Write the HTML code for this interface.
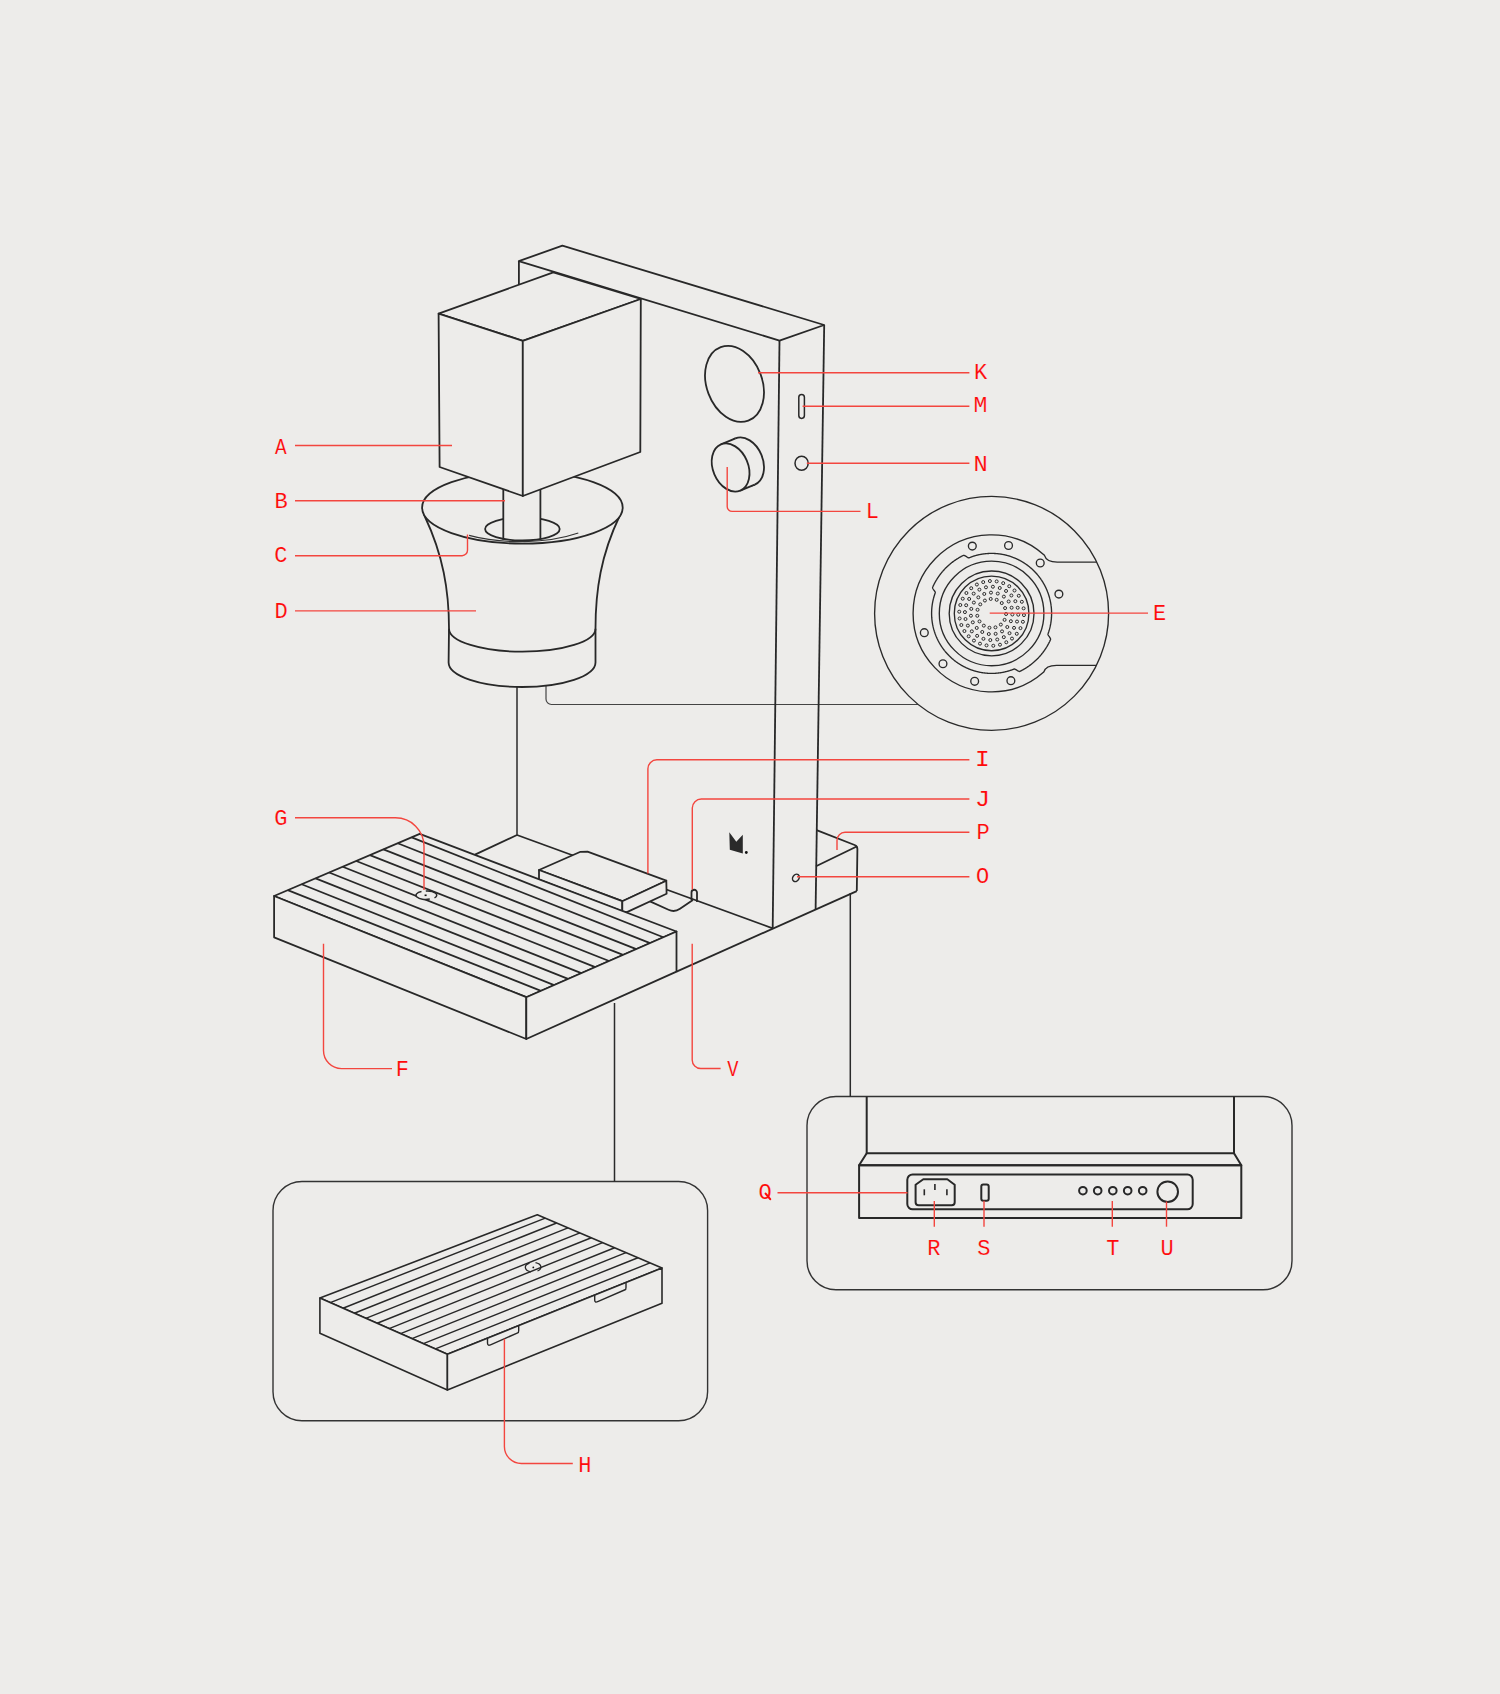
<!DOCTYPE html>
<html><head><meta charset="utf-8"><title>Espresso machine diagram</title>
<style>html,body{margin:0;padding:0;background:#edecea;}body{width:1500px;height:1694px;overflow:hidden;}svg{display:block;}</style>
</head><body>
<svg width="1500" height="1694" viewBox="0 0 1500 1694">
<rect width="1500" height="1694" fill="#edecea"/>
<g fill="none" stroke="#333" stroke-width="1.4">
<rect x="273" y="1181.5" width="434.6" height="239.2" rx="29" ry="29"/>
<rect x="807" y="1096.5" width="485" height="193.3" rx="29" ry="29"/>
</g>
<g fill="none" stroke="#2a2a2a" stroke-width="1.5">
<line x1="614.5" y1="1003" x2="614.5" y2="1181.5"/>
<line x1="850.3" y1="893" x2="850.3" y2="1096.5"/>
<line x1="517" y1="686" x2="517" y2="835"/>
</g>
<path d="M918,704.5 L551.5,704.5 A5.5,5.5 0 0 1 546,699 L546,686" fill="none" stroke="#444" stroke-width="1.2"/>
<g fill="#edecea" stroke="#282828" stroke-width="1.8" stroke-linejoin="round">
<polygon points="518.8,261.1 562.4,245.7 824.2,325 779.5,340.6"/>
<line x1="518.9" y1="261.1" x2="518.9" y2="290"/>
<line x1="779.5" y1="340.6" x2="772.7" y2="928.3"/>
<line x1="824.2" y1="325" x2="815.6" y2="909.5"/>
</g>
<g fill="#edecea" stroke="#282828" stroke-width="1.8">
<ellipse cx="0" cy="0" rx="27.8" ry="39.2" transform="translate(734.5,383.9) rotate(-20.6)"/>
</g>
<g fill="#edecea" stroke="#282828" stroke-width="1.8">
<ellipse cx="0" cy="0" rx="17.6" ry="25" transform="translate(745.1,461.5) rotate(-22.8)"/>
<polygon points="740.2,490.58 754.7,484.58 735.5,438.42 721,444.42" stroke="none"/>
<line x1="740.2" y1="490.58" x2="754.7" y2="484.58"/>
<line x1="721" y1="444.42" x2="735.5" y2="438.42"/>
<ellipse cx="0" cy="0" rx="17.6" ry="25" transform="translate(730.6,467.5) rotate(-22.8)"/>
</g>
<g fill="none" stroke="#282828" stroke-width="1.5">
<rect x="798.8" y="394.4" width="5.6" height="24" rx="2.8" ry="2.8"/>
<ellipse cx="801.6" cy="463.3" rx="6.6" ry="7"/>
<ellipse cx="0" cy="0" rx="3.1" ry="3.9" transform="translate(795.9,877.9) rotate(35)"/>
</g>
<polygon points="729.3,832.3 736.3,841.7 742.8,834.8 742.8,853.5 729.8,849.7" fill="#2a2a2a"/>
<circle cx="746.3" cy="852.5" r="1.4" fill="#111"/>
<g fill="none" stroke="#282828" stroke-width="1.8" stroke-linejoin="round">
<path d="M816.6,830.2 L854.6,845 Q857.4,846.1 857.4,849 L856.8,891.1"/>
<line x1="816" y1="866.2" x2="857.2" y2="846.3"/>
<line x1="475" y1="854.6" x2="517" y2="835"/>
<line x1="517" y1="835" x2="772.7" y2="928.3"/>
<line x1="676.5" y1="971.6" x2="856.8" y2="891.1"/>
<path d="M691.5,900 L691.5,892.5 A2.75,2.75 0 0 1 697,892.5 L697,902" />
<path d="M650,901.4 L668.5,909.8 Q674.5,912.6 680,908.8 L692.9,900" />
</g>
<g fill="#edecea" stroke="#282828" stroke-width="1.8" stroke-linejoin="round">
<polygon points="539,870 580.5,851.8 587.5,851.6 666.3,880.7 622.3,901.2"/>
<polygon points="539,870 539,879.5 622.3,911.3 622.3,901.2"/>
<polygon points="622.3,901.2 666.3,880.7 666.6,893.7 626.9,912.1 622.3,911.3"/>
</g>
<g fill="#edecea" stroke="#282828" stroke-width="1.8" stroke-linejoin="round">
<polygon points="274.1,896 419.7,833.9 676.5,931.5 526.3,997.2"/>
<polygon points="274.1,896 526.3,997.2 526.3,1039 274.1,937.3"/>
<polygon points="526.3,997.2 676.5,931.5 676.5,971.6 526.3,1039"/>
<line x1="287.74" y1="890.18" x2="540.96" y2="990.79"/>
<line x1="301.62" y1="884.26" x2="554.09" y2="985.05"/>
<line x1="315.6" y1="878.3" x2="568.06" y2="978.94"/>
<line x1="329.14" y1="872.53" x2="581.27" y2="973.15"/>
<line x1="342.68" y1="866.75" x2="595.24" y2="967.04"/>
<line x1="356.22" y1="860.98" x2="609.06" y2="961"/>
<line x1="369.9" y1="855.14" x2="623.03" y2="954.89"/>
<line x1="383.45" y1="849.36" x2="636.25" y2="949.11"/>
<line x1="397.71" y1="843.28" x2="650.06" y2="943.06"/>
<line x1="411.69" y1="837.32" x2="663.28" y2="937.28"/>
</g>
<g fill="none" stroke="#282828" stroke-width="1.5">
<path d="M421.5,891.5 A9.5,4.1 0 1 0 429.8,899" fill="#edecea"/>
<path d="M425.8,891.1 A9.5,4.1 0 0 1 434.5,897.8"/>
</g>
<rect x="424.6" y="894.5" width="2" height="1.6" fill="#111"/>
<g fill="#edecea" stroke="#282828" stroke-width="1.8">
<path d="M424.6,516 C443,555 449,590 449,628.7 L448.6,662.4 A73.45,24.6 0 0 0 595.5,662.4 L595.5,628.7 C595.5,590 601,555 619.6,516 Z"/>
<path d="M449,628.7 A73.25,23 0 0 0 595.5,628.7" fill="none"/>
<ellipse cx="522.4" cy="507.6" rx="100.3" ry="36"/>
<ellipse cx="522.4" cy="528.95" rx="37.3" ry="11.45"/>
</g>
<path d="M469.1,535.4 A90,36 0 0 0 578.3,533" fill="none" stroke="#333" stroke-width="1.1"/>
<rect x="503.5" y="480" width="36.8" height="50" fill="#edecea"/>
<g stroke="#282828" stroke-width="1.8"><line x1="503.3" y1="485" x2="503.3" y2="539.6"/><line x1="540.4" y1="485" x2="540.4" y2="539.6"/></g>
<g fill="#edecea" stroke="#282828" stroke-width="1.8" stroke-linejoin="round">
<polygon points="438.6,313.7 553.3,272.3 640.8,299 522.8,340.8"/>
<polygon points="438.6,313.7 522.8,340.8 522.8,496 439.6,467"/>
<polygon points="522.8,340.8 640.8,299 640.3,452 522.8,496"/>
</g>
<g fill="none" stroke="#2a2a2a" stroke-width="1.35">
<circle cx="991.6" cy="613.4" r="117" fill="#edecea"/>
<path d="M1096.75,562.1 L1057.25,562.1 Q1046.45,562.1 1044.45,555.36 A78.5,78.5 0 1 0 1043.76,672.07 Q1045.76,665.4 1056.56,665.4 L1096.41,665.4"/>
<path d="M931.6,613.4 931.6,613.05 931.6,612.7 931.61,612.35 931.62,612 931.63,611.65 931.64,611.31 931.65,610.96 931.66,610.61 931.68,610.26 931.7,609.91 931.72,609.56 931.75,609.21 931.77,608.87 931.8,608.52 931.83,608.17 931.86,607.82 931.89,607.48 931.93,607.13 931.97,606.78 932.01,606.43 932.05,606.09 932.09,605.74 932.14,605.4 932.18,605.05 932.23,604.7 932.29,604.36 932.34,604.01 932.39,603.67 932.45,603.33 932.51,602.98 932.57,602.64 932.64,602.29 932.7,601.95 932.77,601.61 932.84,601.27 932.91,600.93 932.98,600.58 933.06,600.24 933.14,599.9 933.22,599.56 933.3,599.22 933.38,598.88 933.47,598.55 933.56,598.21 933.64,597.87 933.74,597.53 933.83,597.2 933.92,596.86 934.02,596.53 934.12,596.19 934.22,595.86 934.32,595.52 934.43,595.19 934.54,594.86 934.65,594.53 934.76,594.2 934.87,593.87 934.98,593.54 935.1,593.21 935.22,592.88 935.26,592.52 935.15,592.11 934.93,591.65 934.62,591.15 934.27,590.62 933.88,590.08 933.5,589.53 933.16,588.99 932.87,588.47 932.68,587.98 932.61,587.54 932.68,587.17 932.83,586.82 932.99,586.48 933.14,586.14 933.3,585.8 933.46,585.46 933.63,585.13 933.79,584.79 933.96,584.45 934.13,584.12 934.3,583.78 934.47,583.45 934.65,583.12 934.83,582.79 935.01,582.46 935.19,582.13 935.37,581.8 935.55,581.48 935.74,581.15 935.93,580.83 936.12,580.5 936.31,580.18 936.51,579.86 936.7,579.54 936.9,579.22 937.1,578.9 937.3,578.59 937.51,578.27 937.71,577.96 937.92,577.64 938.13,577.33 938.34,577.02 938.55,576.71 938.76,576.4 938.98,576.1 939.2,575.79 939.42,575.49 939.64,575.18 939.86,574.88 940.09,574.58 940.31,574.28 940.54,573.99 940.77,573.69 941.01,573.39 941.24,573.1 941.47,572.81 941.71,572.52 941.95,572.23 942.19,571.94 942.43,571.65 942.68,571.37 942.92,571.08 943.17,570.8 943.42,570.52 943.67,570.24 943.92,569.96 944.17,569.69 944.43,569.41 944.68,569.14 944.94,568.87 945.2,568.59 945.46,568.33 945.73,568.06 945.99,567.79 946.26,567.53 946.53,567.26 946.79,567 947.07,566.74 947.34,566.48 947.61,566.23 947.89,565.97 948.16,565.72 948.44,565.47 948.72,565.22 949,564.97 949.28,564.72 949.57,564.48 949.85,564.23 950.14,563.99 950.43,563.75 950.72,563.51 951.01,563.27 951.3,563.04 951.59,562.81 951.89,562.57 952.19,562.34 952.48,562.11 952.78,561.89 953.08,561.66 953.38,561.44 953.69,561.22 953.99,561 954.3,560.78 954.6,560.56 954.91,560.35 955.22,560.14 955.53,559.93 955.84,559.72 956.16,559.51 956.47,559.31 956.79,559.1 957.1,558.9 957.42,558.7 957.74,558.5 958.06,558.31 958.38,558.11 958.7,557.92 959.03,557.73 959.35,557.54 959.68,557.35 960,557.17 960.33,556.99 960.66,556.81 960.99,556.63 961.32,556.45 961.65,556.27 961.98,556.1 962.32,555.93 962.65,555.76 962.99,555.59 963.33,555.43 963.7,555.34 964.14,555.4 964.64,555.58 965.17,555.85 965.72,556.17 966.28,556.53 966.84,556.9 967.37,557.24 967.88,557.52 968.35,557.73 968.77,557.82 969.12,557.77 969.45,557.64 969.77,557.51 970.1,557.39 970.42,557.26 970.75,557.14 971.08,557.02 971.41,556.9 971.74,556.78 972.07,556.67 972.4,556.56 972.73,556.45 973.06,556.34 973.39,556.23 973.72,556.12 974.06,556.02 974.39,555.92 974.73,555.82 975.06,555.72 975.4,555.63 975.73,555.54 976.07,555.44 976.41,555.36 976.75,555.27 977.08,555.18 977.42,555.1 977.76,555.02 978.1,554.94 978.44,554.86 978.78,554.78 979.13,554.71 979.47,554.64 979.81,554.57 980.15,554.5 980.49,554.44 980.84,554.37 981.18,554.31 981.53,554.25 981.87,554.19 982.21,554.14 982.56,554.09 982.9,554.03 983.25,553.98 983.6,553.94 983.94,553.89 984.29,553.85 984.63,553.81 984.98,553.77 985.33,553.73 985.68,553.69 986.02,553.66 986.37,553.63 986.72,553.6 987.07,553.57 987.41,553.55 987.76,553.52 988.11,553.5 988.46,553.48 988.81,553.46 989.16,553.45 989.51,553.44 989.85,553.43 990.2,553.42 990.55,553.41 990.9,553.4 991.25,553.4 991.6,553.4 991.95,553.4 992.3,553.4 992.65,553.41 993,553.42 993.35,553.43 993.69,553.44 994.04,553.45 994.39,553.46 994.74,553.48 995.09,553.5 995.44,553.52 995.79,553.55 996.13,553.57 996.48,553.6 996.83,553.63 997.18,553.66 997.52,553.69 997.87,553.73 998.22,553.77 998.57,553.81 998.91,553.85 999.26,553.89 999.6,553.94 999.95,553.98 1000.3,554.03 1000.64,554.09 1000.99,554.14 1001.33,554.19 1001.67,554.25 1002.02,554.31 1002.36,554.37 1002.71,554.44 1003.05,554.5 1003.39,554.57 1003.73,554.64 1004.07,554.71 1004.42,554.78 1004.76,554.86 1005.1,554.94 1005.44,555.02 1005.78,555.1 1006.12,555.18 1006.45,555.27 1006.79,555.36 1007.13,555.44 1007.47,555.54 1007.8,555.63 1008.14,555.72 1008.47,555.82 1008.81,555.92 1009.14,556.02 1009.48,556.12 1009.81,556.23 1010.14,556.34 1010.47,556.45 1010.8,556.56 1011.13,556.67 1011.46,556.78 1011.79,556.9 1012.12,557.02 1012.45,557.14 1012.78,557.26 1013.1,557.39 1013.43,557.51 1013.75,557.64 1014.08,557.77 1014.4,557.9 1014.72,558.03 1015.04,558.17 1015.36,558.31 1015.68,558.45 1016,558.59 1016.32,558.73 1016.64,558.87 1016.96,559.02 1017.27,559.17 1017.59,559.32 1017.9,559.47 1018.22,559.63 1018.53,559.78 1018.84,559.94 1019.15,560.1 1019.46,560.26 1019.77,560.42 1020.08,560.59 1020.38,560.75 1020.69,560.92 1020.99,561.09 1021.3,561.26 1021.6,561.44 1021.9,561.61 1022.2,561.79 1022.5,561.97 1022.8,562.15 1023.1,562.33 1023.4,562.52 1023.69,562.7 1023.99,562.89 1024.28,563.08 1024.57,563.27 1024.86,563.46 1025.15,563.66 1025.44,563.85 1025.73,564.05 1026.01,564.25 1026.3,564.45 1026.58,564.65 1026.87,564.86 1027.15,565.06 1027.43,565.27 1027.71,565.48 1027.99,565.69 1028.26,565.91 1028.54,566.12 1028.81,566.34 1029.09,566.55 1029.36,566.77 1029.63,566.99 1029.9,567.21 1030.17,567.44 1030.43,567.66 1030.7,567.89 1030.96,568.12 1031.23,568.35 1031.49,568.58 1031.75,568.81 1032.01,569.05 1032.26,569.28 1032.52,569.52 1032.77,569.76 1033.03,570 1033.28,570.24 1033.53,570.48 1033.78,570.73 1034.03,570.97 1034.27,571.22 1034.52,571.47 1034.76,571.72 1035,571.97 1035.24,572.23 1035.48,572.48 1035.72,572.74 1035.95,572.99 1036.19,573.25 1036.42,573.51 1036.65,573.77 1036.88,574.04 1037.11,574.3 1037.34,574.57 1037.56,574.83 1037.79,575.1 1038.01,575.37 1038.23,575.64 1038.45,575.91 1038.66,576.19 1038.88,576.46 1039.09,576.74 1039.31,577.01 1039.52,577.29 1039.73,577.57 1039.94,577.85 1040.14,578.13 1040.35,578.42 1040.55,578.7 1040.75,578.99 1040.95,579.27 1041.15,579.56 1041.34,579.85 1041.54,580.14 1041.73,580.43 1041.92,580.72 1042.11,581.01 1042.3,581.31 1042.48,581.6 1042.67,581.9 1042.85,582.2 1043.03,582.5 1043.21,582.8 1043.39,583.1 1043.56,583.4 1043.74,583.7 1043.91,584.01 1044.08,584.31 1044.25,584.62 1044.41,584.92 1044.58,585.23 1044.74,585.54 1044.9,585.85 1045.06,586.16 1045.22,586.47 1045.37,586.78 1045.53,587.1 1045.68,587.41 1045.83,587.73 1045.98,588.04 1046.13,588.36 1046.27,588.68 1046.41,589 1046.55,589.32 1046.69,589.64 1046.83,589.96 1046.97,590.28 1047.1,590.6 1047.23,590.92 1047.36,591.25 1047.49,591.57 1047.61,591.9 1047.74,592.22 1047.86,592.55 1047.98,592.88 1048.1,593.21 1048.22,593.54 1048.33,593.87 1048.44,594.2 1048.55,594.53 1048.66,594.86 1048.77,595.19 1048.88,595.52 1048.98,595.86 1049.08,596.19 1049.18,596.53 1049.28,596.86 1049.37,597.2 1049.46,597.53 1049.56,597.87 1049.64,598.21 1049.73,598.55 1049.82,598.88 1049.9,599.22 1049.98,599.56 1050.06,599.9 1050.14,600.24 1050.22,600.58 1050.29,600.93 1050.36,601.27 1050.43,601.61 1050.5,601.95 1050.56,602.29 1050.63,602.64 1050.69,602.98 1050.75,603.33 1050.81,603.67 1050.86,604.01 1050.91,604.36 1050.97,604.7 1051.02,605.05 1051.06,605.4 1051.11,605.74 1051.15,606.09 1051.19,606.43 1051.23,606.78 1051.27,607.13 1051.31,607.48 1051.34,607.82 1051.37,608.17 1051.4,608.52 1051.43,608.87 1051.45,609.21 1051.48,609.56 1051.5,609.91 1051.52,610.26 1051.54,610.61 1051.55,610.96 1051.56,611.31 1051.57,611.65 1051.58,612 1051.59,612.35 1051.6,612.7 1051.6,613.05 1051.6,613.4 1051.6,613.75 1051.6,614.1 1051.59,614.45 1051.58,614.8 1051.57,615.15 1051.56,615.49 1051.55,615.84 1051.54,616.19 1051.52,616.54 1051.5,616.89 1051.48,617.24 1051.45,617.59 1051.43,617.93 1051.4,618.28 1051.37,618.63 1051.34,618.98 1051.31,619.32 1051.27,619.67 1051.23,620.02 1051.19,620.37 1051.15,620.71 1051.11,621.06 1051.06,621.4 1051.02,621.75 1050.97,622.1 1050.91,622.44 1050.86,622.79 1050.81,623.13 1050.75,623.47 1050.69,623.82 1050.63,624.16 1050.56,624.51 1050.5,624.85 1050.43,625.19 1050.36,625.53 1050.29,625.87 1050.22,626.22 1050.14,626.56 1050.06,626.9 1049.98,627.24 1049.9,627.58 1049.82,627.92 1049.73,628.25 1049.64,628.59 1049.56,628.93 1049.46,629.27 1049.37,629.6 1049.28,629.94 1049.18,630.27 1049.08,630.61 1048.98,630.94 1048.88,631.28 1048.77,631.61 1048.66,631.94 1048.55,632.27 1048.44,632.6 1048.33,632.93 1048.22,633.26 1048.1,633.59 1047.98,633.92 1047.94,634.28 1048.05,634.69 1048.27,635.15 1048.58,635.65 1048.93,636.18 1049.32,636.72 1049.7,637.27 1050.04,637.81 1050.33,638.33 1050.52,638.82 1050.59,639.26 1050.52,639.63 1050.37,639.98 1050.21,640.32 1050.06,640.66 1049.9,641 1049.74,641.34 1049.57,641.67 1049.41,642.01 1049.24,642.35 1049.07,642.68 1048.9,643.02 1048.73,643.35 1048.55,643.68 1048.37,644.01 1048.19,644.34 1048.01,644.67 1047.83,645 1047.65,645.32 1047.46,645.65 1047.27,645.97 1047.08,646.3 1046.89,646.62 1046.69,646.94 1046.5,647.26 1046.3,647.58 1046.1,647.9 1045.9,648.21 1045.69,648.53 1045.49,648.84 1045.28,649.16 1045.07,649.47 1044.86,649.78 1044.65,650.09 1044.44,650.4 1044.22,650.7 1044,651.01 1043.78,651.31 1043.56,651.62 1043.34,651.92 1043.11,652.22 1042.89,652.52 1042.66,652.81 1042.43,653.11 1042.19,653.41 1041.96,653.7 1041.73,653.99 1041.49,654.28 1041.25,654.57 1041.01,654.86 1040.77,655.15 1040.52,655.43 1040.28,655.72 1040.03,656 1039.78,656.28 1039.53,656.56 1039.28,656.84 1039.03,657.11 1038.77,657.39 1038.52,657.66 1038.26,657.93 1038,658.21 1037.74,658.47 1037.47,658.74 1037.21,659.01 1036.94,659.27 1036.67,659.54 1036.41,659.8 1036.13,660.06 1035.86,660.32 1035.59,660.57 1035.31,660.83 1035.04,661.08 1034.76,661.33 1034.48,661.58 1034.2,661.83 1033.92,662.08 1033.63,662.32 1033.35,662.57 1033.06,662.81 1032.77,663.05 1032.48,663.29 1032.19,663.53 1031.9,663.76 1031.61,663.99 1031.31,664.23 1031.01,664.46 1030.72,664.69 1030.42,664.91 1030.12,665.14 1029.82,665.36 1029.51,665.58 1029.21,665.8 1028.9,666.02 1028.6,666.24 1028.29,666.45 1027.98,666.66 1027.67,666.87 1027.36,667.08 1027.04,667.29 1026.73,667.49 1026.41,667.7 1026.1,667.9 1025.78,668.1 1025.46,668.3 1025.14,668.49 1024.82,668.69 1024.5,668.88 1024.17,669.07 1023.85,669.26 1023.52,669.45 1023.2,669.63 1022.87,669.81 1022.54,669.99 1022.21,670.17 1021.88,670.35 1021.55,670.53 1021.22,670.7 1020.88,670.87 1020.55,671.04 1020.21,671.21 1019.87,671.37 1019.5,671.46 1019.06,671.4 1018.56,671.22 1018.03,670.95 1017.48,670.63 1016.92,670.27 1016.36,669.9 1015.83,669.56 1015.32,669.28 1014.85,669.07 1014.43,668.98 1014.08,669.03 1013.75,669.16 1013.43,669.29 1013.1,669.41 1012.78,669.54 1012.45,669.66 1012.12,669.78 1011.79,669.9 1011.46,670.02 1011.13,670.13 1010.8,670.24 1010.47,670.35 1010.14,670.46 1009.81,670.57 1009.48,670.68 1009.14,670.78 1008.81,670.88 1008.47,670.98 1008.14,671.08 1007.8,671.17 1007.47,671.26 1007.13,671.36 1006.79,671.44 1006.45,671.53 1006.12,671.62 1005.78,671.7 1005.44,671.78 1005.1,671.86 1004.76,671.94 1004.42,672.02 1004.07,672.09 1003.73,672.16 1003.39,672.23 1003.05,672.3 1002.71,672.36 1002.36,672.43 1002.02,672.49 1001.67,672.55 1001.33,672.61 1000.99,672.66 1000.64,672.71 1000.3,672.77 999.95,672.82 999.6,672.86 999.26,672.91 998.91,672.95 998.57,672.99 998.22,673.03 997.87,673.07 997.52,673.11 997.18,673.14 996.83,673.17 996.48,673.2 996.13,673.23 995.79,673.25 995.44,673.28 995.09,673.3 994.74,673.32 994.39,673.34 994.04,673.35 993.69,673.36 993.35,673.37 993,673.38 992.65,673.39 992.3,673.4 991.95,673.4 991.6,673.4 991.25,673.4 990.9,673.4 990.55,673.39 990.2,673.38 989.85,673.37 989.51,673.36 989.16,673.35 988.81,673.34 988.46,673.32 988.11,673.3 987.76,673.28 987.41,673.25 987.07,673.23 986.72,673.2 986.37,673.17 986.02,673.14 985.68,673.11 985.33,673.07 984.98,673.03 984.63,672.99 984.29,672.95 983.94,672.91 983.6,672.86 983.25,672.82 982.9,672.77 982.56,672.71 982.21,672.66 981.87,672.61 981.53,672.55 981.18,672.49 980.84,672.43 980.49,672.36 980.15,672.3 979.81,672.23 979.47,672.16 979.13,672.09 978.78,672.02 978.44,671.94 978.1,671.86 977.76,671.78 977.42,671.7 977.08,671.62 976.75,671.53 976.41,671.44 976.07,671.36 975.73,671.26 975.4,671.17 975.06,671.08 974.73,670.98 974.39,670.88 974.06,670.78 973.72,670.68 973.39,670.57 973.06,670.46 972.73,670.35 972.4,670.24 972.07,670.13 971.74,670.02 971.41,669.9 971.08,669.78 970.75,669.66 970.42,669.54 970.1,669.41 969.77,669.29 969.45,669.16 969.12,669.03 968.8,668.9 968.48,668.77 968.16,668.63 967.84,668.49 967.52,668.35 967.2,668.21 966.88,668.07 966.56,667.93 966.24,667.78 965.93,667.63 965.61,667.48 965.3,667.33 964.98,667.17 964.67,667.02 964.36,666.86 964.05,666.7 963.74,666.54 963.43,666.38 963.12,666.21 962.82,666.05 962.51,665.88 962.21,665.71 961.9,665.54 961.6,665.36 961.3,665.19 961,665.01 960.7,664.83 960.4,664.65 960.1,664.47 959.8,664.28 959.51,664.1 959.21,663.91 958.92,663.72 958.63,663.53 958.34,663.34 958.05,663.14 957.76,662.95 957.47,662.75 957.19,662.55 956.9,662.35 956.62,662.15 956.33,661.94 956.05,661.74 955.77,661.53 955.49,661.32 955.21,661.11 954.94,660.89 954.66,660.68 954.39,660.46 954.11,660.25 953.84,660.03 953.57,659.81 953.3,659.59 953.03,659.36 952.77,659.14 952.5,658.91 952.24,658.68 951.97,658.45 951.71,658.22 951.45,657.99 951.19,657.75 950.94,657.52 950.68,657.28 950.43,657.04 950.17,656.8 949.92,656.56 949.67,656.32 949.42,656.07 949.17,655.83 948.93,655.58 948.68,655.33 948.44,655.08 948.2,654.83 947.96,654.57 947.72,654.32 947.48,654.06 947.25,653.81 947.01,653.55 946.78,653.29 946.55,653.03 946.32,652.76 946.09,652.5 945.86,652.23 945.64,651.97 945.41,651.7 945.19,651.43 944.97,651.16 944.75,650.89 944.54,650.61 944.32,650.34 944.11,650.06 943.89,649.79 943.68,649.51 943.47,649.23 943.26,648.95 943.06,648.67 942.85,648.38 942.65,648.1 942.45,647.81 942.25,647.53 942.05,647.24 941.86,646.95 941.66,646.66 941.47,646.37 941.28,646.08 941.09,645.79 940.9,645.49 940.72,645.2 940.53,644.9 940.35,644.6 940.17,644.3 939.99,644 939.81,643.7 939.64,643.4 939.46,643.1 939.29,642.79 939.12,642.49 938.95,642.18 938.79,641.88 938.62,641.57 938.46,641.26 938.3,640.95 938.14,640.64 937.98,640.33 937.83,640.02 937.67,639.7 937.52,639.39 937.37,639.07 937.22,638.76 937.07,638.44 936.93,638.12 936.79,637.8 936.65,637.48 936.51,637.16 936.37,636.84 936.23,636.52 936.1,636.2 935.97,635.88 935.84,635.55 935.71,635.23 935.59,634.9 935.46,634.58 935.34,634.25 935.22,633.92 935.1,633.59 934.98,633.26 934.87,632.93 934.76,632.6 934.65,632.27 934.54,631.94 934.43,631.61 934.32,631.28 934.22,630.94 934.12,630.61 934.02,630.27 933.92,629.94 933.83,629.6 933.74,629.27 933.64,628.93 933.56,628.59 933.47,628.25 933.38,627.92 933.3,627.58 933.22,627.24 933.14,626.9 933.06,626.56 932.98,626.22 932.91,625.87 932.84,625.53 932.77,625.19 932.7,624.85 932.64,624.51 932.57,624.16 932.51,623.82 932.45,623.47 932.39,623.13 932.34,622.79 932.29,622.44 932.23,622.1 932.18,621.75 932.14,621.4 932.09,621.06 932.05,620.71 932.01,620.37 931.97,620.02 931.93,619.67 931.89,619.32 931.86,618.98 931.83,618.63 931.8,618.28 931.77,617.93 931.75,617.59 931.72,617.24 931.7,616.89 931.68,616.54 931.66,616.19 931.65,615.84 931.64,615.49 931.63,615.15 931.62,614.8 931.61,614.45 931.6,614.1 931.6,613.75 Z"/>
<circle cx="991.6" cy="613.4" r="52.3"/>
<circle cx="991.6" cy="613.4" r="42.4"/>
<circle cx="991.6" cy="613.4" r="37.3"/>
<circle cx="972.31" cy="546.11" r="3.9"/>
<circle cx="1008.53" cy="545.48" r="3.9"/>
<circle cx="1040.23" cy="563.05" r="3.9"/>
<circle cx="1058.89" cy="594.11" r="3.9"/>
<circle cx="1010.89" cy="680.69" r="3.9"/>
<circle cx="974.67" cy="681.32" r="3.9"/>
<circle cx="942.97" cy="663.75" r="3.9"/>
<circle cx="924.31" cy="632.69" r="3.9"/>
</g>
<g fill="none" stroke="#2a2a2a" stroke-width="1.0">
<circle cx="990.71" cy="598.93" r="1.5"/>
<circle cx="996.68" cy="599.82" r="1.5"/>
<circle cx="1001.76" cy="603.06" r="1.5"/>
<circle cx="1005.09" cy="608.09" r="1.5"/>
<circle cx="1006.09" cy="614.03" r="1.5"/>
<circle cx="1004.58" cy="619.87" r="1.5"/>
<circle cx="1000.82" cy="624.59" r="1.5"/>
<circle cx="995.47" cy="627.37" r="1.5"/>
<circle cx="989.46" cy="627.74" r="1.5"/>
<circle cx="983.81" cy="625.63" r="1.5"/>
<circle cx="979.51" cy="621.4" r="1.5"/>
<circle cx="977.3" cy="615.79" r="1.5"/>
<circle cx="977.56" cy="609.77" r="1.5"/>
<circle cx="980.25" cy="604.37" r="1.5"/>
<circle cx="984.9" cy="600.54" r="1.5"/>
<circle cx="990.98" cy="592.61" r="1.5"/>
<circle cx="997.77" cy="593.54" r="1.5"/>
<circle cx="1003.88" cy="596.61" r="1.5"/>
<circle cx="1008.67" cy="601.51" r="1.5"/>
<circle cx="1011.6" cy="607.7" r="1.5"/>
<circle cx="1012.37" cy="614.5" r="1.5"/>
<circle cx="1010.89" cy="621.19" r="1.5"/>
<circle cx="1007.31" cy="627.03" r="1.5"/>
<circle cx="1002.04" cy="631.39" r="1.5"/>
<circle cx="995.63" cy="633.81" r="1.5"/>
<circle cx="988.79" cy="634.01" r="1.5"/>
<circle cx="982.25" cy="631.98" r="1.5"/>
<circle cx="976.72" cy="627.94" r="1.5"/>
<circle cx="972.81" cy="622.32" r="1.5"/>
<circle cx="970.93" cy="615.73" r="1.5"/>
<circle cx="971.29" cy="608.89" r="1.5"/>
<circle cx="973.86" cy="602.55" r="1.5"/>
<circle cx="978.34" cy="597.37" r="1.5"/>
<circle cx="984.27" cy="593.94" r="1.5"/>
<circle cx="992.9" cy="586.73" r="1.5"/>
<circle cx="999.76" cy="587.98" r="1.5"/>
<circle cx="1006.06" cy="590.96" r="1.5"/>
<circle cx="1011.38" cy="595.47" r="1.5"/>
<circle cx="1015.35" cy="601.2" r="1.5"/>
<circle cx="1017.7" cy="607.76" r="1.5"/>
<circle cx="1018.27" cy="614.7" r="1.5"/>
<circle cx="1017.02" cy="621.56" r="1.5"/>
<circle cx="1014.04" cy="627.86" r="1.5"/>
<circle cx="1009.53" cy="633.18" r="1.5"/>
<circle cx="1003.8" cy="637.15" r="1.5"/>
<circle cx="997.24" cy="639.5" r="1.5"/>
<circle cx="990.3" cy="640.07" r="1.5"/>
<circle cx="983.44" cy="638.82" r="1.5"/>
<circle cx="977.14" cy="635.84" r="1.5"/>
<circle cx="971.82" cy="631.33" r="1.5"/>
<circle cx="967.85" cy="625.6" r="1.5"/>
<circle cx="965.5" cy="619.04" r="1.5"/>
<circle cx="964.93" cy="612.1" r="1.5"/>
<circle cx="966.18" cy="605.24" r="1.5"/>
<circle cx="969.16" cy="598.94" r="1.5"/>
<circle cx="973.67" cy="593.62" r="1.5"/>
<circle cx="979.4" cy="589.65" r="1.5"/>
<circle cx="985.96" cy="587.3" r="1.5"/>
<circle cx="989.9" cy="581.04" r="1.5"/>
<circle cx="996.67" cy="581.4" r="1.5"/>
<circle cx="1003.21" cy="583.15" r="1.5"/>
<circle cx="1009.25" cy="586.23" r="1.5"/>
<circle cx="1014.51" cy="590.49" r="1.5"/>
<circle cx="1018.77" cy="595.75" r="1.5"/>
<circle cx="1021.85" cy="601.79" r="1.5"/>
<circle cx="1023.6" cy="608.33" r="1.5"/>
<circle cx="1023.96" cy="615.1" r="1.5"/>
<circle cx="1022.9" cy="621.79" r="1.5"/>
<circle cx="1020.47" cy="628.11" r="1.5"/>
<circle cx="1016.78" cy="633.79" r="1.5"/>
<circle cx="1011.99" cy="638.58" r="1.5"/>
<circle cx="1006.31" cy="642.27" r="1.5"/>
<circle cx="999.99" cy="644.7" r="1.5"/>
<circle cx="993.3" cy="645.76" r="1.5"/>
<circle cx="986.53" cy="645.4" r="1.5"/>
<circle cx="979.99" cy="643.65" r="1.5"/>
<circle cx="973.95" cy="640.57" r="1.5"/>
<circle cx="968.69" cy="636.31" r="1.5"/>
<circle cx="964.43" cy="631.05" r="1.5"/>
<circle cx="961.35" cy="625.01" r="1.5"/>
<circle cx="959.6" cy="618.47" r="1.5"/>
<circle cx="959.24" cy="611.7" r="1.5"/>
<circle cx="960.3" cy="605.01" r="1.5"/>
<circle cx="962.73" cy="598.69" r="1.5"/>
<circle cx="966.42" cy="593.01" r="1.5"/>
<circle cx="971.21" cy="588.22" r="1.5"/>
<circle cx="976.89" cy="584.53" r="1.5"/>
<circle cx="983.21" cy="582.1" r="1.5"/>
</g>
<g fill="#edecea" stroke="#282828" stroke-width="1.6" stroke-linejoin="round">
<polygon points="319.9,1298.1 537.3,1214.7 662,1268 447.4,1354.2"/>
<polygon points="319.9,1298.1 447.4,1354.2 447.4,1389.9 319.9,1333.2"/>
<polygon points="447.4,1354.2 662,1268 662,1303.3 447.4,1389.9"/>
</g>
<g fill="none" stroke="#282828" stroke-width="1.45">
<line x1="330.23" y1="1302.64" x2="545.28" y2="1218.11"/>
<line x1="342.98" y1="1308.25" x2="556.63" y2="1222.96"/>
<line x1="354.32" y1="1313.25" x2="567.98" y2="1227.81"/>
<line x1="365.8" y1="1318.3" x2="579.95" y2="1232.93"/>
<line x1="377.15" y1="1323.29" x2="591.3" y2="1237.78"/>
<line x1="389.13" y1="1328.56" x2="602.64" y2="1242.63"/>
<line x1="400.61" y1="1333.61" x2="614.61" y2="1247.75"/>
<line x1="411.95" y1="1338.6" x2="625.96" y2="1252.6"/>
<line x1="423.43" y1="1343.65" x2="637.93" y2="1257.71"/>
<line x1="435.41" y1="1348.93" x2="650.03" y2="1262.88"/>
</g>
<path d="M487.5,1338.09 L487.5,1343.09 Q487.5,1346.09 490.5,1344.79 L517.7,1332.86 Q518.7,1332.56 518.7,1330.56 L518.7,1325.56" fill="none" stroke="#282828" stroke-width="1.4"/>
<path d="M594.7,1295.03 L594.7,1300.03 Q594.7,1303.03 597.7,1301.73 L625,1289.76 Q626,1289.46 626,1287.46 L626,1282.46" fill="none" stroke="#282828" stroke-width="1.4"/>
<g fill="none" stroke="#282828" stroke-width="1.3">
<path d="M529.5,1263.2 A8,4.7 0 0 0 531,1271.8"/>
<path d="M535.5,1262.7 A8,4.7 0 0 1 537.5,1271"/>
</g>
<circle cx="533.3" cy="1267.4" r="0.9" fill="#111"/>
<g fill="none" stroke="#282828" stroke-width="2" stroke-linejoin="round">
<path d="M866.7,1096.5 L866.7,1153.3 L1234,1153.3 L1234,1096.5"/>
<path d="M866.7,1153.3 L859.1,1165.3 L1241.3,1165.3 L1234,1153.3"/>
<rect x="859.1" y="1165.3" width="382.2" height="52.7"/>
<rect x="907.3" y="1174.4" width="285.4" height="34.9" rx="5.3" ry="5.3"/>
<path d="M915.6,1184.7 L923.3,1179.3 L947.3,1179.3 L954.7,1184.7 L954.7,1202.3 Q954.7,1205.3 951.7,1205.3 L918.6,1205.3 Q915.6,1205.3 915.6,1202.3 Z"/>
<rect x="981.3" y="1184.4" width="7.4" height="16.3" rx="2" ry="2"/>
<circle cx="1082.9" cy="1190.7" r="3.8"/>
<circle cx="1097.7" cy="1190.7" r="3.8"/>
<circle cx="1112.8" cy="1190.7" r="3.8"/>
<circle cx="1127.7" cy="1190.7" r="3.8"/>
<circle cx="1142.7" cy="1190.7" r="3.8"/>
<circle cx="1167.7" cy="1191.7" r="10.3"/>
</g>
<g stroke="#282828" stroke-width="1.6"><line x1="924.3" y1="1189.3" x2="924.3" y2="1195.3"/><line x1="934.9" y1="1184" x2="934.9" y2="1190"/><line x1="946.9" y1="1189.3" x2="946.9" y2="1195.3"/></g>
<g fill="none" stroke="#f3463f" stroke-width="1.4" stroke-linejoin="round">
<line x1="295" y1="445.5" x2="452" y2="445.5"/>
<line x1="295" y1="500.7" x2="505" y2="500.7"/>
<path d="M295,555.7 L462.1,555.7 A5.4,5.4 0 0 0 467.5,550.3 L467.5,534.5"/>
<line x1="295" y1="610.9" x2="476" y2="610.9"/>
<path d="M295,817.8 L395.5,817.8 A28.5,28.5 0 0 1 424,846.3 L424,890"/>
<line x1="758" y1="372.7" x2="969.4" y2="372.7"/>
<line x1="802.6" y1="406.3" x2="969.4" y2="406.3"/>
<line x1="806.8" y1="463.3" x2="969.4" y2="463.3"/>
<path d="M860.5,511.4 L732.2,511.4 A5,5 0 0 1 727.2,506.4 L727.2,467"/>
<line x1="989.7" y1="613.1" x2="1148" y2="613.1"/>
<path d="M969.4,759.8 L656.9,759.8 A9,9 0 0 0 647.9,768.8 L647.9,873.5"/>
<path d="M969.4,799 L701.3,799 A9,9 0 0 0 692.3,808 L692.3,889.5"/>
<path d="M969.4,832.3 L845,832.3 A8,8 0 0 0 837,840.3 L837,850"/>
<line x1="797" y1="876.7" x2="969.4" y2="876.7"/>
<path d="M392,1068.6 L341.5,1068.6 A18,18 0 0 1 323.5,1050.6 L323.5,943.8"/>
<path d="M720.6,1068.5 L700.7,1068.5 A8.5,8.5 0 0 1 692.2,1060 L692.2,943.8"/>
<path d="M572.8,1463.5 L521.4,1463.5 A17,17 0 0 1 504.4,1446.5 L504.4,1338.7"/>
<line x1="777.5" y1="1192.7" x2="907.5" y2="1192.7"/>
<line x1="934.3" y1="1201" x2="934.3" y2="1226.7"/>
<line x1="984" y1="1200.7" x2="984" y2="1226.7"/>
<line x1="1112.3" y1="1201" x2="1112.3" y2="1226.7"/>
<line x1="1166.5" y1="1201.5" x2="1166.5" y2="1226.7"/>
</g>
<g font-family="Liberation Mono, monospace" font-size="22" fill="#ff0a0a" stroke="#edecea" stroke-width="0.12" text-anchor="middle">
<text transform="translate(280.8,453.8) scale(0.88,1)">A</text>
<text x="281" y="508">B</text>
<text x="280.8" y="561.7">C</text>
<text x="281" y="618">D</text>
<text x="280.9" y="824.6">G</text>
<text x="980.7" y="378.7">K</text>
<text transform="translate(980.5,411.8) scale(1.05,1)">M</text>
<text transform="translate(980.6,470.7) scale(1.08,1)">N</text>
<text x="872.3" y="518.2">L</text>
<text x="1159.7" y="620.3">E</text>
<text transform="translate(982.3,766.2) scale(1.12,1)">I</text>
<text transform="translate(982.6,805.5) scale(1.15,1)">J</text>
<text x="983.2" y="839">P</text>
<text x="982.6" y="882.5">O</text>
<text x="402.4" y="1076">F</text>
<text transform="translate(732.8,1076) scale(0.85,1)">V</text>
<text x="584.8" y="1472">H</text>
<text x="765" y="1199">O</text>
<text x="933.8" y="1255">R</text>
<text x="983.8" y="1255">S</text>
<text x="1112.8" y="1255">T</text>
<text x="1167" y="1255">U</text>
</g>
<path d="M765.6,1193.6 L770.2,1199.2" stroke="#ff0a0a" stroke-width="2.1" stroke-linecap="round"/>
</svg>
</body></html>
